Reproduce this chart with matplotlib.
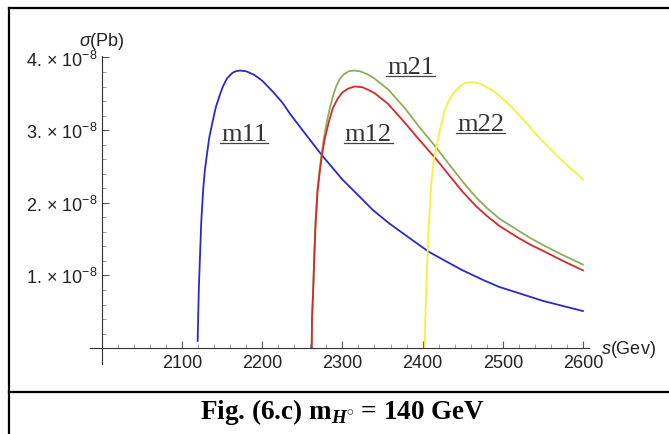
import numpy as np
import matplotlib
matplotlib.use("Agg")
import matplotlib.pyplot as plt
from matplotlib.lines import Line2D

plt.rcParams['font.family'] = ['Liberation Sans', 'DejaVu Sans']
plt.rcParams['mathtext.fontset'] = 'custom'
plt.rcParams['mathtext.rm'] = 'Liberation Sans'
plt.rcParams['mathtext.it'] = 'Liberation Sans:italic'
plt.rcParams['mathtext.bf'] = 'Liberation Serif:bold'
plt.rcParams['mathtext.bfit'] = 'Liberation Serif:bold:italic'

# cross sections, in units of 1e-8 pb
m11_s = [2119.5, 2120.2, 2121, 2122.5, 2124, 2126.5, 2128.5, 2131, 2134, 2138, 2142, 2147,
         2151, 2156, 2163, 2167, 2172, 2180, 2190, 2200, 2214, 2225, 2235, 2253, 2274,
         2300, 2320, 2338, 2358, 2378, 2407, 2430, 2450, 2475, 2496, 2519, 2550, 2575, 2600]
m11_sigma = [0.10, 0.45, 0.83, 1.29, 1.74, 2.20, 2.45, 2.66, 2.90, 3.11, 3.31, 3.48,
             3.60, 3.71, 3.79, 3.81, 3.82, 3.81, 3.76, 3.68, 3.52, 3.38, 3.22, 2.96, 2.66,
             2.32, 2.10, 1.90, 1.72, 1.56, 1.33, 1.19, 1.07, 0.94, 0.84, 0.76, 0.65, 0.58, 0.51]

m21_s = [2261.7, 2262.1, 2263.6, 2265, 2266.5, 2269, 2271.5, 2274, 2277, 2280.5, 2284.5,
         2288.5, 2292.5, 2297, 2302, 2308, 2314, 2322, 2331, 2340, 2357, 2378, 2394, 2417,
         2433, 2450, 2467, 2480, 2496, 2519, 2535, 2550, 2575, 2600]
m21_sigma = [0.0, 0.4, 0.83, 1.30, 1.74, 2.20, 2.45, 2.66, 2.90, 3.11, 3.31,
             3.48, 3.61, 3.71, 3.77, 3.81, 3.82, 3.81, 3.77, 3.71, 3.56, 3.30, 3.07, 2.76,
             2.53, 2.29, 2.07, 1.93, 1.78, 1.62, 1.51, 1.42, 1.28, 1.15]

m12_s = [2261.7, 2262.1, 2263.6, 2265, 2266.5, 2269, 2271.5, 2274, 2278, 2283, 2288,
         2294, 2300, 2307, 2315, 2325, 2333, 2340, 2357, 2378, 2394, 2417, 2433, 2450,
         2467, 2480, 2496, 2519, 2535, 2550, 2575, 2600]
m12_sigma = [0.0, 0.4, 0.80, 1.27, 1.70, 2.15, 2.40, 2.62, 2.88, 3.11, 3.30,
             3.43, 3.52, 3.57, 3.60, 3.59, 3.55, 3.51, 3.36, 3.10, 2.89, 2.60, 2.38, 2.15,
             1.95, 1.82, 1.68, 1.52, 1.42, 1.34, 1.20, 1.07]

m22_s = [2402.6, 2403.2, 2404.5, 2406, 2407.6, 2410, 2412, 2414, 2417, 2422.6, 2427.5,
         2432, 2438, 2447, 2454, 2461, 2468, 2475, 2488, 2498, 2509, 2520, 2530, 2540,
         2550.5, 2560, 2571, 2585, 2600]
m22_sigma = [0.0, 0.35, 0.76, 1.25, 1.68, 2.13, 2.40, 2.59, 2.76, 3.05, 3.27,
             3.39, 3.50, 3.61, 3.65, 3.66, 3.65, 3.62, 3.54, 3.45, 3.34, 3.21, 3.09, 2.96,
             2.84, 2.73, 2.61, 2.47, 2.32]

x_major = [2100, 2200, 2300, 2400, 2500, 2600]
x_minor = [v for v in range(2020, 2601, 20) if v % 100 != 0]
y_major = [1, 2, 3, 4]
y_minor = [v / 10 for v in range(2, 40, 2) if v % 10 != 0]
y_labels = ["1. \u00d7 $10^{-8}$", "2. \u00d7 $10^{-8}$", "3. \u00d7 $10^{-8}$", "4. \u00d7 $10^{-8}$"]

curve_names = ["m11", "m12", "m21", "m22"]
label_pos = [(2148.5, 2.86), (2303, 2.86), (2355.5, 3.78), (2443, 3.0)]

W, H = 669, 435
fig = plt.figure(figsize=(W / 100, H / 100), dpi=100)
ax = fig.add_axes([89.8 / W, (H - 365.1) / H, 499.6 / W, 308.1 / H])

ax.plot(m11_s, m11_sigma, color='#2a2acb', lw=1.3)
ax.plot(m21_s, m21_sigma, color='#8cae5a', lw=1.3)
ax.plot(m12_s, m12_sigma, color='#d42a2a', lw=1.3)
ax.plot(m22_s, m22_sigma, color='#f2f23c', lw=1.3)

ax.set_xlim(1985, 2608)
ax.set_ylim(-0.22, 4.02)
ax.spines['left'].set_position(('data', 2000))
ax.spines['bottom'].set_position(('data', 0))
ax.spines['top'].set_visible(False)
ax.spines['right'].set_visible(False)
for sp in ['left', 'bottom']:
    ax.spines[sp].set_color('#333333')
    ax.spines[sp].set_linewidth(0.8)

ax.set_xticks(x_major)
ax.set_xticklabels([str(v) for v in x_major])
ax.set_xticks(x_minor, minor=True)
ax.set_yticks(y_major)
ax.set_yticklabels(y_labels)
ax.set_yticks(y_minor, minor=True)
ax.tick_params(which='major', direction='in', length=5, width=0.8, color='#555555',
               labelsize=13, labelcolor='#222222')
ax.tick_params(which='minor', direction='in', length=3, width=0.6, color='#888888')
ax.tick_params(axis='x', pad=4)
ax.tick_params(axis='y', pad=3)

ax.text(2000, 4.23, r"$\sigma$(Pb)", ha='center', va='center', fontsize=13,
        color='#222222', clip_on=False)
ax.text(2622, 0.0, r"$s$(Gev)", ha='left', va='center', fontsize=13,
        color='#222222', clip_on=False)

texts = []
for name, (px, py) in zip(curve_names, label_pos):
    texts.append(ax.text(px, py, name, family='Liberation Serif', fontsize=19,
                         color='#333333', va='baseline'))

# frame of the figure cell
fig.add_artist(Line2D([9 / W, 1], [1 - 9 / H, 1 - 9 / H], transform=fig.transFigure, color='k', lw=1.6))
fig.add_artist(Line2D([9 / W, 9 / W], [0, 1 - 9 / H], transform=fig.transFigure, color='k', lw=1.6))
fig.add_artist(Line2D([9 / W, 1], [1 - 393 / H, 1 - 393 / H], transform=fig.transFigure, color='k', lw=1.6))

fig.text(343 / W, 1 - 412 / H, r"Fig. (6.c) $\mathbf{m}_{\mathbfit{H}^{\circ}}$ = 140 GeV",
         ha='center', va='center', family='Liberation Serif', weight='bold', fontsize=19.5)

# underline the curve labels
fig.canvas.draw()
r = fig.canvas.get_renderer()
for t in texts:
    bb = t.get_window_extent(r)
    bx, by = ax.transData.transform(t.get_position())
    yy = (by - 3) / H
    fig.add_artist(Line2D([(bb.x0 - 1) / W, (bb.x1 + 1) / W], [yy, yy],
                          transform=fig.transFigure, color='#444444', lw=0.9))

fig.savefig('out.png', dpi=100)
